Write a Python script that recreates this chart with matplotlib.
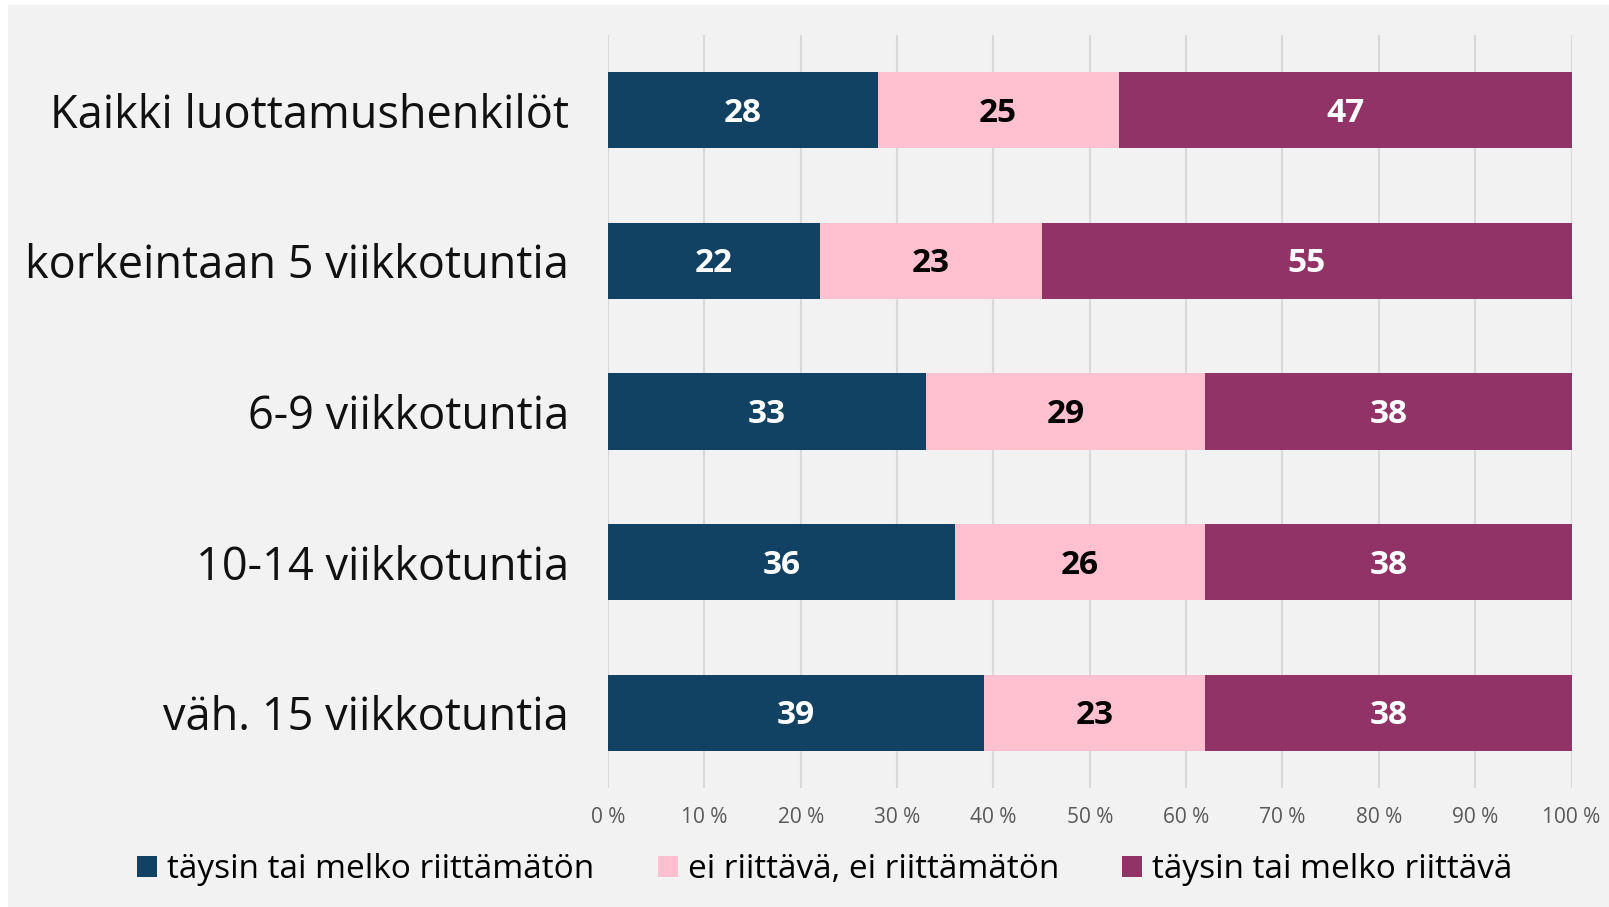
import matplotlib
matplotlib.use("Agg")
import matplotlib.pyplot as plt
from matplotlib.patches import Rectangle
import numpy as np

categories = ["Kaikki luottamushenkilöt", "korkeintaan 5 viikkotuntia",
              "6-9 viikkotuntia", "10-14 viikkotuntia", "väh. 15 viikkotuntia"]
series_names = ["täysin tai melko riittämätön", "ei riittävä, ei riittämätön",
                "täysin tai melko riittävä"]
insufficient = [28, 22, 33, 36, 39]
neutral = [25, 23, 29, 26, 23]
sufficient = [47, 55, 38, 38, 38]
xticks = [0, 10, 20, 30, 40, 50, 60, 70, 80, 90, 100]

colors = ["#124263", "#ffc0cf", "#913366"]
label_colors = ["white", "black", "white"]
bg = "#f2f2f2"

plt.rcParams['font.family'] = ['Open Sans', 'DejaVu Sans']

fig = plt.figure(figsize=(16.09, 9.07), dpi=100, facecolor="white")
fig.patches.append(Rectangle((8 / 1609, 0), 1, 1 - 5 / 907, transform=fig.transFigure,
                             facecolor=bg, edgecolor="none", zorder=0))
ax = fig.add_axes([608 / 1609, 1 - 788 / 907, (1571.5 - 608) / 1609, (788 - 35) / 907])
ax.set_zorder(2)
ax.patch.set_alpha(0)

y = np.arange(len(categories))
left = np.zeros(len(categories))
for vals, name, col, lc in zip([insufficient, neutral, sufficient], series_names, colors, label_colors):
    ax.barh(y, vals, left=left, height=0.505, color=col, label=name, zorder=3)
    for yi, l, v in zip(y, left, vals):
        ax.text(l + v / 2, yi + 0.02, str(v), ha="center", va="center", color=lc,
                fontsize=24, fontweight="bold", zorder=4)
    left = left + np.array(vals)

ax.set_xlim(0, 100)
ax.set_ylim(len(categories) - 0.5, -0.5)
ax.set_xticks(xticks)
ax.set_xticklabels([f"{t} %" for t in xticks], color="#595959", fontsize=15)
ax.set_yticks(y)
ax.set_yticklabels(categories, fontsize=32.5, color="#111111")
ax.tick_params(axis="both", length=0)
ax.tick_params(axis="x", pad=14)
ax.tick_params(axis="y", pad=28)
ax.grid(axis="x", color="#d9d9d9", linewidth=1.5, zorder=0)
for s in ax.spines.values():
    s.set_visible(False)

leg = fig.legend(loc="center", bbox_to_anchor=(825 / 1609, 1 - 870 / 907), ncol=3, frameon=False,
                 fontsize=24, handlelength=0.6, handleheight=0.6, handletextpad=0.3,
                 columnspacing=1.9)
leg.set_zorder(3)

fig.savefig("out.png", dpi=100, facecolor="white")
